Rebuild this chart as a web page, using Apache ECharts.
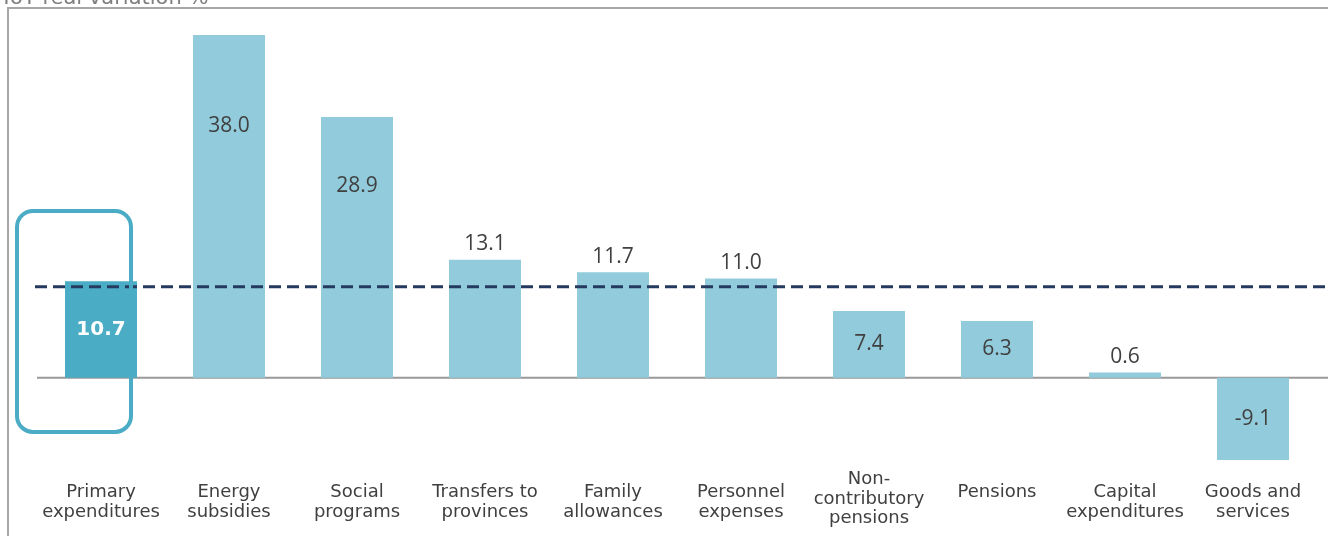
<!DOCTYPE html>
<html>
<head>
<meta charset="utf-8">
<script src="https://cdn.jsdelivr.net/npm/echarts@6/dist/echarts.min.js"></script>
<style>
html, body { margin: 0; padding: 0; background: #fff; }
#main { width: 1328px; height: 536px; }
</style>
</head>
<body>
<div id="main"></div>
<script>
var categories = ['Primary\nexpenditures', 'Energy\nsubsidies', 'Social\nprograms', 'Transfers to\nprovinces',
    'Family\nallowances', 'Personnel\nexpenses', 'Non-\ncontributory\npensions', 'Pensions',
    'Capital\nexpenditures', 'Goods and\nservices'];
var values = [10.7, 38.0, 28.9, 13.1, 11.7, 11.0, 7.4, 6.3, 0.6, -9.1];
var refLine = 10.1;          // dashed reference level
var boxRange = [-6.0, 18.5]; // highlight box around the first bar (value units)

var labelFont = 'Open Sans';
var axisFont = 'DejaVu Sans';
var light = '#92CCDC', dark = '#4BACC6';

// where each value label goes
var labelPos = ['inside', 'insideTop', 'insideTop', 'top', 'top', 'top', 'inside', 'inside', 'top', 'inside'];
var labelDist = [0, 80, 58, 5, 5, 5, 0, 0, 5, 0];

var myChart = echarts.init(document.getElementById('main'));

var barData = values.map(function (v, i) {
    var item = {
        value: v,
        itemStyle: { color: i === 0 ? dark : light },
        label: { position: labelPos[i], distance: labelDist[i] }
    };
    if (i === 0) {
        item.label.color = '#fff';
        item.label.fontWeight = 'bold';
        item.label.fontSize = 20;
        item.label.fontFamily = axisFont;
    }
    return item;
});

// the three-line label sits a little higher
var axisData = categories.map(function (c) {
    if (c.split('\n').length > 2) {
        return { value: c, textStyle: { lineHeight: 19.5, padding: [-12, 0, 0, 0] } };
    }
    return c;
});

option = {
    animation: false,
    grid: { left: 37, right: 11, top: 17, bottom: 68, outerBoundsMode: 'none', containLabel: false },
    xAxis: {
        type: 'category',
        data: axisData,
        axisLine: { show: false },
        axisTick: { show: false },
        axisLabel: {
            interval: 0,
            margin: 14,
            color: '#404040',
            fontSize: 18,
            lineHeight: 20,
            fontFamily: axisFont
        }
    },
    yAxis: {
        type: 'value',
        min: -10,
        max: 40,
        show: false,
        splitLine: { show: false }
    },
    series: [{
        type: 'bar',
        barWidth: 72,
        data: barData,
        label: {
            show: true,
            color: '#404040',
            fontSize: 21,
            fontFamily: labelFont,
            formatter: function (p) { return p.value.toFixed(1); }
        }
    }]
};

myChart.setOption(option);

// frame, title, zero line, dashed line and highlight box
var y0 = myChart.convertToPixel({ yAxisIndex: 0 }, 0);
var yRef = myChart.convertToPixel({ yAxisIndex: 0 }, refLine);
var yTop = myChart.convertToPixel({ yAxisIndex: 0 }, boxRange[1]);
var yBot = myChart.convertToPixel({ yAxisIndex: 0 }, boxRange[0]);
var x0 = myChart.convertToPixel({ xAxisIndex: 0 }, 0);

myChart.setOption({
    graphic: [
        {
            type: 'rect',
            shape: { x: 8, y: 8, width: 1500, height: 700 },
            style: { fill: null, stroke: '#a6a6a6', lineWidth: 2 }
        },
        {
            type: 'text',
            x: 0, y: 9,
            style: {
                text: 'YoY real variation %',
                fill: '#7f7f7f',
                font: '21px "' + axisFont + '"',
                verticalAlign: 'bottom'
            }
        },
        {
            type: 'line',
            shape: { x1: 37, y1: y0, x2: 1328, y2: y0 },
            style: { stroke: '#999', lineWidth: 2 }
        },
        {
            type: 'line',
            shape: { x1: 35, y1: yRef, x2: 1328, y2: yRef },
            style: { stroke: '#243A5E', lineWidth: 3, lineDash: [12, 6] },
            z: 10
        },
        {
            type: 'rect',
            shape: { x: x0 - 84, y: yTop, width: 114, height: yBot - yTop, r: 16 },
            style: { fill: null, stroke: dark, lineWidth: 4 },
            z: 10
        }
    ]
});
</script>
</body>
</html>
